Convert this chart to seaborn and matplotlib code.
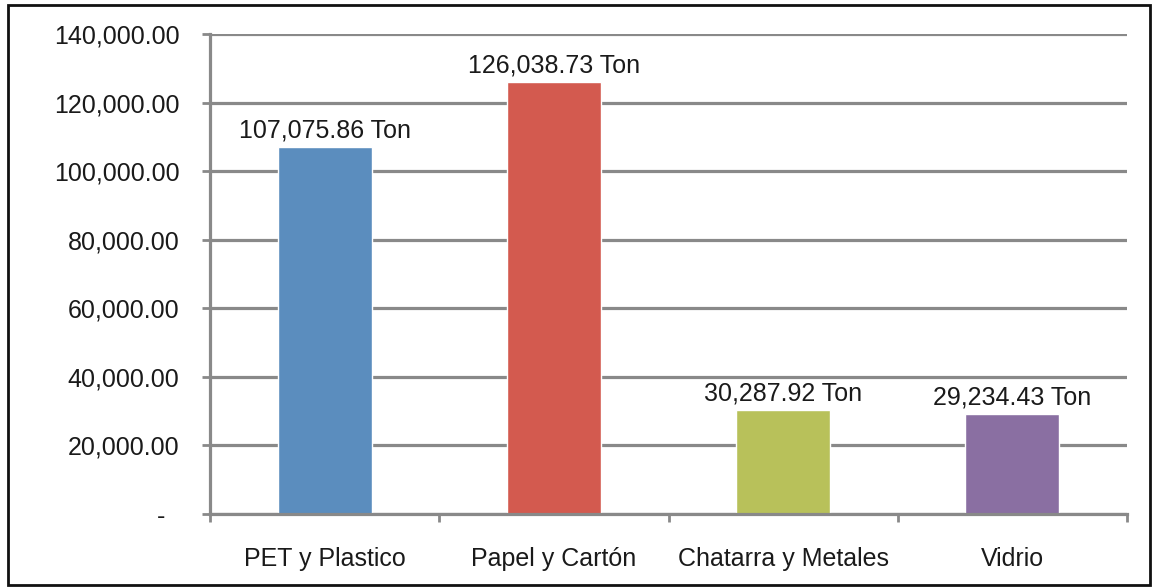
import matplotlib
matplotlib.use("Agg")
import matplotlib.pyplot as plt
import seaborn as sns
import pandas as pd
from matplotlib.patches import Rectangle
from matplotlib.ticker import FixedLocator, FuncFormatter

categories = ["PET y Plastico", "Papel y Cartón", "Chatarra y Metales", "Vidrio"]
values = [107075.86, 126038.73, 30287.92, 29234.43]
colors = ["#5B8DBE", "#D35A4F", "#B8C15A", "#8A6FA2"]
y_ticks = [0, 20000, 40000, 60000, 80000, 100000, 120000, 140000]

sns.set_theme(style="white")
plt.rcParams['font.family'] = ['Liberation Sans', 'DejaVu Sans']

df = pd.DataFrame({"cat": categories, "val": values})

fig = plt.figure(figsize=(11.61, 5.87), dpi=100)
ax = fig.add_axes([210/1161, 1 - 514/587, (1127 - 210)/1161, (514 - 34)/587])

sns.barplot(data=df, x="cat", y="val", hue="cat", palette=colors, width=0.41,
            legend=False, ax=ax, saturation=1, zorder=3)

grid_c = "#898989"
ax.set_ylim(0, 140000)
ax.set_xlim(-0.5, 3.5)
ax.yaxis.set_major_locator(FixedLocator(y_ticks))
ax.yaxis.set_major_formatter(FuncFormatter(lambda v, p: "-  " if v == 0 else f"{v:,.2f}"))
ax.grid(axis="y", color=grid_c, linewidth=2.3, zorder=0)
ax.set_axisbelow(True)

for s in ["top", "right"]:
    ax.spines[s].set_visible(False)
for s in ["left", "bottom"]:
    ax.spines[s].set_color(grid_c)
    ax.spines[s].set_linewidth(2.3)
    ax.spines[s].set_zorder(4)

ax.tick_params(axis="y", which="major", left=True, length=6, width=2, color=grid_c,
               labelsize=18, labelcolor="#1a1a1a", pad=16)
ax.set_xticks(range(len(categories)))
ax.set_xticklabels(categories)
ax.tick_params(axis="x", which="major", bottom=False, length=0, labelsize=18,
               labelcolor="#1a1a1a", pad=24)
ax.set_xticks([-0.5, 0.5, 1.5, 2.5, 3.5], minor=True)
ax.tick_params(axis="x", which="minor", bottom=True, length=6, width=2, color=grid_c)

ax.set_xlabel("")
ax.set_ylabel("")

for i, v in enumerate(values):
    ax.annotate(f"{v:,.2f} Ton", xy=(i, v), xytext=(0, 3), textcoords="offset points",
                ha="center", va="bottom", fontsize=18, color="#1a1a1a")

fig.patches.append(Rectangle((8/1161, 1 - 585/587), (1150 - 8)/1161, (585 - 5)/587,
                             transform=fig.transFigure, fill=False,
                             edgecolor="#111111", linewidth=2, zorder=10))

fig.savefig("out.png", dpi=100, facecolor="white")
